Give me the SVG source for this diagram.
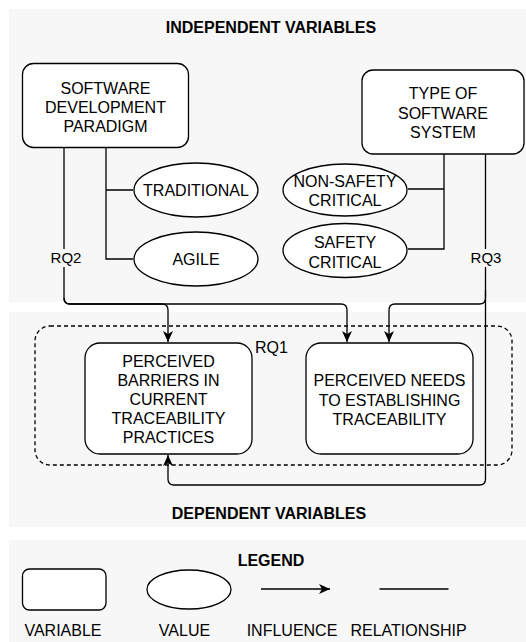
<svg xmlns="http://www.w3.org/2000/svg" width="526" height="642" viewBox="0 0 526 642">
<style>
.panel{fill:#f7f7f7;stroke:none}
.box{fill:#fff;stroke:#000;stroke-width:1.3}
.ell{fill:#fff;stroke:#000;stroke-width:1.3}
.ln{fill:none;stroke:#000;stroke-width:1.3}
.arr{fill:none;stroke:#000;stroke-width:1.3;marker-end:url(#ah)}
.dash{fill:none;stroke:#000;stroke-width:1.3;stroke-dasharray:4 3}
text{font-family:"Liberation Sans",Arial,sans-serif;font-size:16px;fill:#000;text-anchor:middle}
.t{font-weight:bold}
.lbl{font-size:15px}
</style>
<defs>
<marker id="ah" markerUnits="userSpaceOnUse" markerWidth="12" markerHeight="10" refX="11" refY="5" orient="auto">
<path d="M0,0 L11,5 L0,10 L3,5 Z" fill="#000"/>
</marker>
</defs>
<g id="panels">
<rect class="panel" x="9" y="9" width="517" height="293"/>
<rect class="panel" x="9" y="312" width="517" height="215"/>
<rect class="panel" x="9" y="540" width="517" height="102"/>
</g>
<text class="t" x="271" y="33">INDEPENDENT VARIABLES</text>
<text class="t" x="269" y="519">DEPENDENT VARIABLES</text>
<g id="rq1-group">
<rect class="dash" x="35" y="326" width="477" height="139" rx="15"/>
<text x="255" y="353" style="text-anchor:start">RQ1</text>
</g>
<g id="connectors">
<path class="ln" d="M106,148 V259 H133 M106,190 H133"/>
<path class="ln" d="M444,154 V249 H408 M444,189 H408"/>
<path class="arr" d="M64,148 V298 Q64,304 70,304 H162 Q168,304 168,310 V342"/>
<path class="arr" d="M64,298 Q64,304 70,304 H341 Q347,304 347,310 V342"/>
<path class="arr" d="M485.5,154 V298 Q485.5,304 479.5,304 H395 Q389,304 389,310 V342"/>
<path class="arr" d="M485.5,290 V479 Q485.5,485 479.5,485 H174 Q168,485 168,479 V455"/>
<rect x="50" y="249" width="32" height="18" fill="#f7f7f7"/>
<text class="lbl" x="66" y="263">RQ2</text>
<rect x="470" y="249" width="32" height="18" fill="#f7f7f7"/>
<text class="lbl" x="486" y="263">RQ3</text>
</g>
<g id="sdp">
<rect class="box" x="22.5" y="63.5" width="166" height="84" rx="11"/>
<text x="105.5" y="93.5">SOFTWARE</text>
<text x="105.5" y="112.5">DEVELOPMENT</text>
<text x="105.5" y="131.5">PARADIGM</text>
</g>
<g id="tss">
<rect class="box" x="362" y="70" width="162" height="84" rx="11"/>
<text x="443" y="99">TYPE OF</text>
<text x="443" y="118.5">SOFTWARE</text>
<text x="443" y="138">SYSTEM</text>
</g>
<g id="traditional">
<ellipse class="ell" cx="196" cy="190" rx="62" ry="27"/>
<text x="196" y="195.5">TRADITIONAL</text>
</g>
<g id="agile">
<ellipse class="ell" cx="196" cy="259" rx="62" ry="27"/>
<text x="196" y="265">AGILE</text>
</g>
<g id="nonsafety">
<ellipse class="ell" cx="345" cy="190" rx="62" ry="26"/>
<text x="345" y="187">NON-SAFETY</text>
<text x="345" y="206">CRITICAL</text>
</g>
<g id="safety">
<ellipse class="ell" cx="345" cy="250.5" rx="62" ry="27"/>
<text x="345" y="248">SAFETY</text>
<text x="345" y="267.5">CRITICAL</text>
</g>
<g id="barriers">
<rect class="box" x="85" y="343" width="167" height="111" rx="15"/>
<text x="168.5" y="367">PERCEIVED</text>
<text x="168.5" y="386">BARRIERS IN</text>
<text x="168.5" y="405">CURRENT</text>
<text x="168.5" y="424">TRACEABILITY</text>
<text x="168.5" y="443">PRACTICES</text>
</g>
<g id="needs">
<rect class="box" x="306" y="343" width="167" height="111" rx="15"/>
<text x="389.5" y="386">PERCEIVED NEEDS</text>
<text x="389.5" y="405.5">TO ESTABLISHING</text>
<text x="389.5" y="424.5">TRACEABILITY</text>
</g>
<g id="legend">
<text class="t" x="271" y="565.5">LEGEND</text>
<rect class="box" x="22.5" y="569" width="83.5" height="41" rx="7"/>
<ellipse class="ell" cx="189" cy="589.5" rx="42" ry="19.5"/>
<path class="arr" d="M261,589 H330"/>
<path class="ln" d="M379.5,589 H448.5"/>
<text x="63" y="636">VARIABLE</text>
<text x="184.5" y="636">VALUE</text>
<text x="292" y="636">INFLUENCE</text>
<text x="408.5" y="636">RELATIONSHIP</text>
</g>
</svg>
